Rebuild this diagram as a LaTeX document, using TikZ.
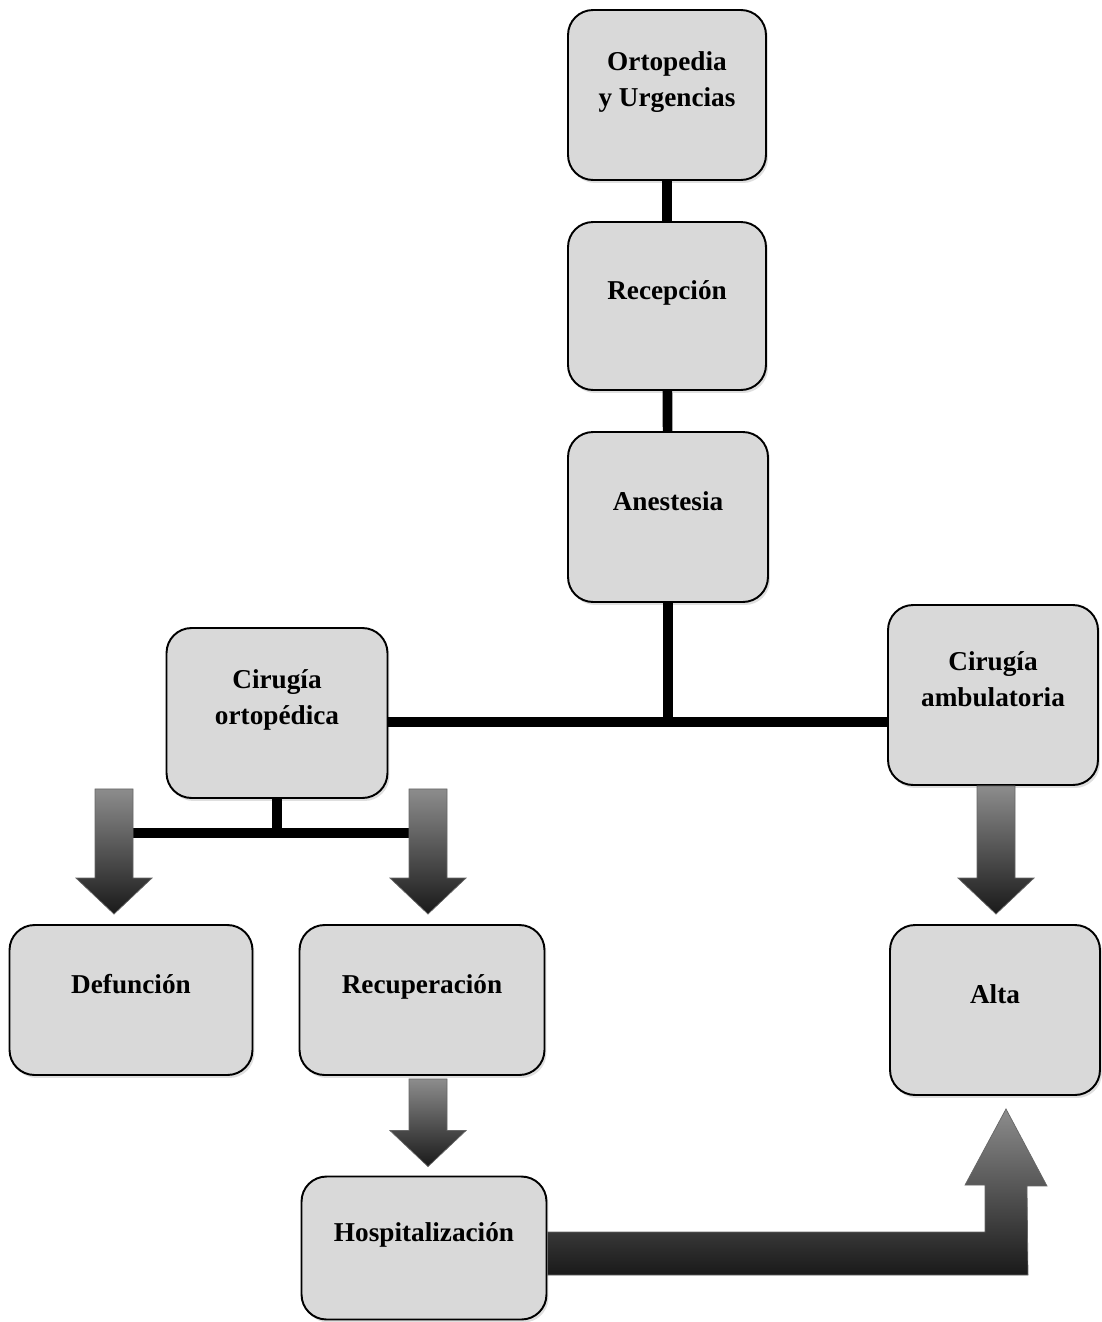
\documentclass[tikz,border=0pt]{standalone}
\usepackage{fontspec}
\setmainfont{Liberation Serif}
\usetikzlibrary{calc,shadows}

% block arrow pointing down: #1 shaft top, #2 tip
\newcommand\flechabaja[2]{%
  \shade[flecha] ($(#1)+(-19,0)$) -- ($(#1 |- #2)+(-19,-36)$) -- ++(-19,0)
    -- (#2) -- ++(38,-36) -- ++(-19,0) -- ($(#1)+(19,0)$) -- cycle;}

\begin{document}
\begin{tikzpicture}[
    x=0.02cm, y=-0.02cm,
    font=\bfseries\fontsize{15.5}{20.5}\selectfont,
    box/.style={draw, line width=1.1pt, fill=black!15, rounded corners=0.5cm,
      align=center, text depth=0.65cm,
      drop shadow={opacity=0.25, shadow xshift=0.04cm, shadow yshift=-0.06cm}},
    link/.style={line width=5.5pt},
    flecha/.style={top color=black!45, bottom color=black!90, draw=black!60, line width=0.4pt},
  ]
  \useasboundingbox (0,0) rectangle (1102,1322);

  % ---------------- boxes ----------------
  \node[box, minimum width=3.96cm, minimum height=3.4cm] (ort) at (667,95) {Ortopedia\\y Urgencias};
  \node[box, minimum width=3.96cm, minimum height=3.36cm] (rec) at (667,306) {Recepción};
  \node[box, minimum width=4.0cm, minimum height=3.4cm] (ane) at (668,517) {Anestesia};
  \node[box, minimum width=4.42cm, minimum height=3.4cm] (ciro) at (277,713) {Cirugía\\ortopédica};
  \node[box, minimum width=4.2cm, minimum height=3.6cm] (amb) at (993,695) {Cirugía\\ambulatoria};
  \node[box, minimum width=4.86cm, minimum height=3.0cm] (def) at (131,1000) {Defunción};
  \node[box, minimum width=4.9cm, minimum height=3.0cm] (recu) at (422,1000) {Recuperación};
  \node[box, minimum width=4.2cm, minimum height=3.4cm] (alta) at (995,1010) {Alta};
  \node[box, minimum width=4.9cm, minimum height=2.86cm] (hosp) at (424,1248) {Hospitalización};

  % ---------------- straight links ----------------
  \coordinate (jn) at ($(ane.south)+(0,119)$);
  \draw[link] (ort) -- (rec);
  \draw[link] (rec) -- (ane);
  \draw[link] (ane.south) -- (jn);
  \draw[link] (ciro.east |- jn) -- (amb.west |- jn);

  % ---------------- block arrows ----------------
  \coordinate (ta) at ($(def.north)+(-17,-10)$);
  \coordinate (tb) at ($(recu.north)+(6,-10)$);
  \coordinate (tc) at ($(ciro.south)+(0,34)$);
  \coordinate (sa) at ($(ta |- ciro.south)+(0,-10)$);
  \coordinate (sb) at ($(tb |- ciro.south)+(0,-10)$);
  \draw[link] (ciro.south) -- (tc);
  \draw[link] (sa |- tc) -- (sb |- tc);
  \flechabaja{sa}{ta}
  \flechabaja{sb}{tb}

  \coordinate (tm) at ($(alta.north)+(1,-10)$);
  \flechabaja{tm |- amb.south}{tm}

  \coordinate (th) at ($(hosp.north)+(4,-9)$);
  \coordinate (sh) at ($(th |- recu.south)+(0,3)$);
  \flechabaja{sh}{th}

  % bent arrow to Alta
  \coordinate (bt) at ($(hosp.east)+(0,-16)$);
  \coordinate (bb) at ($(hosp.east)+(0,27)$);
  \coordinate (ha) at ($(alta.south)+(11,13)$);
  \shade[flecha] (bt) -- ($(ha |- bt)+(-21,0)$) -- ++(0,-47) -- ++(-20,0)
    -- (ha) -- ++(41,77) -- ++(-20,0) -- ($(ha |- bb)+(22,0)$) -- (bb) -- cycle;
\end{tikzpicture}
\end{document}
